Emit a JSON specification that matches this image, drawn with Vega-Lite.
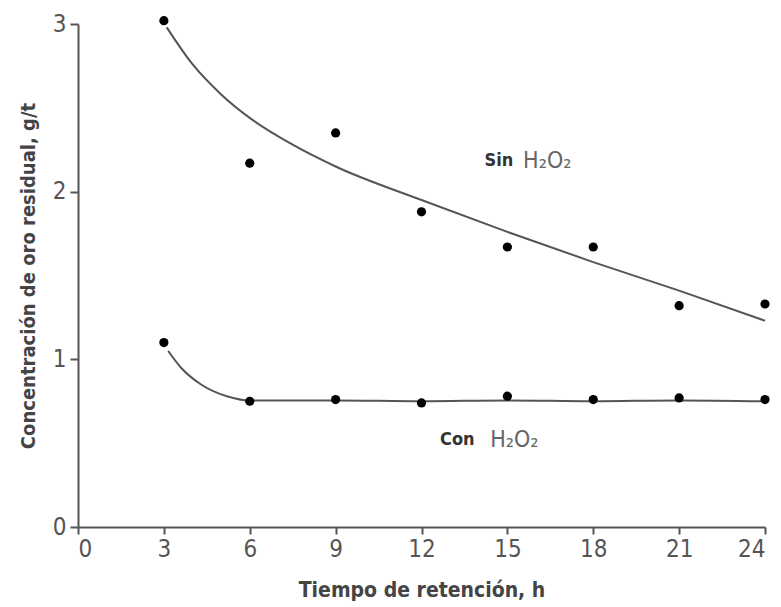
{
  "$schema": "https://vega.github.io/schema/vega-lite/v6.json",
  "width": 687,
  "height": 503,
  "autosize": "none",
  "padding": {"left": 78, "top": 24, "right": 16, "bottom": 80},
  "background": "white",
  "config": {"view": {"stroke": null}},
  "datasets": {
    "points": [
      {"t": 3, "c": 3.02, "serie": "Sin"},
      {"t": 6, "c": 2.17, "serie": "Sin"},
      {"t": 9, "c": 2.35, "serie": "Sin"},
      {"t": 12, "c": 1.88, "serie": "Sin"},
      {"t": 15, "c": 1.67, "serie": "Sin"},
      {"t": 18, "c": 1.67, "serie": "Sin"},
      {"t": 21, "c": 1.32, "serie": "Sin"},
      {"t": 24, "c": 1.33, "serie": "Sin"},
      {"t": 3, "c": 1.1, "serie": "Con"},
      {"t": 6, "c": 0.75, "serie": "Con"},
      {"t": 9, "c": 0.76, "serie": "Con"},
      {"t": 12, "c": 0.74, "serie": "Con"},
      {"t": 15, "c": 0.78, "serie": "Con"},
      {"t": 18, "c": 0.76, "serie": "Con"},
      {"t": 21, "c": 0.77, "serie": "Con"},
      {"t": 24, "c": 0.76, "serie": "Con"}
    ],
    "curves": [
      {"t": 3.1, "c": 2.98, "serie": "Sin"},
      {"t": 4, "c": 2.76, "serie": "Sin"},
      {"t": 5, "c": 2.58, "serie": "Sin"},
      {"t": 6, "c": 2.44, "serie": "Sin"},
      {"t": 7.5, "c": 2.28, "serie": "Sin"},
      {"t": 9, "c": 2.15, "serie": "Sin"},
      {"t": 12, "c": 1.95, "serie": "Sin"},
      {"t": 15, "c": 1.76, "serie": "Sin"},
      {"t": 18, "c": 1.58, "serie": "Sin"},
      {"t": 21, "c": 1.41, "serie": "Sin"},
      {"t": 24, "c": 1.23, "serie": "Sin"},
      {"t": 3.15, "c": 1.05, "serie": "Con"},
      {"t": 3.6, "c": 0.95, "serie": "Con"},
      {"t": 4.3, "c": 0.85, "serie": "Con"},
      {"t": 5.2, "c": 0.78, "serie": "Con"},
      {"t": 6, "c": 0.755, "serie": "Con"},
      {"t": 9, "c": 0.755, "serie": "Con"},
      {"t": 12, "c": 0.75, "serie": "Con"},
      {"t": 15, "c": 0.755, "serie": "Con"},
      {"t": 18, "c": 0.75, "serie": "Con"},
      {"t": 21, "c": 0.755, "serie": "Con"},
      {"t": 24, "c": 0.75, "serie": "Con"}
    ],
    "labels": [
      {"t": 14.2, "c": 2.18, "bold": "Sin", "formula": "H₂O₂", "t2": 15.55},
      {"t": 12.65, "c": 0.52, "bold": "Con", "formula": "H₂O₂", "t2": 14.4}
    ]
  },
  "layer": [
    {
      "data": {"name": "curves"},
      "mark": {"type": "line", "interpolate": "monotone", "color": "#555555", "strokeWidth": 2, "clip": false},
      "encoding": {
        "x": {
          "field": "t", "type": "quantitative",
          "scale": {"domain": [0, 24], "nice": false},
          "axis": {
            "title": "Tiempo de retención, h",
            "values": [0, 3, 6, 9, 12, 15, 18, 21, 24],
            "format": "d",
            "grid": false,
            "domainColor": "#555555", "domainWidth": 2,
            "tickColor": "#555555", "tickWidth": 2, "tickSize": 7,
            "labelFont": "DejaVu Sans Condensed", "labelFontSize": 24, "labelFontWeight": "normal", "labelColor": "#555555", "labelPadding": 3,
            "titleFont": "DejaVu Sans Condensed", "titleFontSize": 21, "titleFontWeight": "bold", "titleColor": "#444444", "titlePadding": 18
          }
        },
        "y": {
          "field": "c", "type": "quantitative",
          "scale": {"domain": [0, 3], "nice": false},
          "axis": {
            "title": "Concentración de oro residual, g/t",
            "values": [0, 1, 2, 3],
            "format": "d",
            "grid": false,
            "domainColor": "#555555", "domainWidth": 2,
            "tickColor": "#555555", "tickWidth": 2, "tickSize": 8,
            "labelFont": "DejaVu Sans Condensed", "labelFontSize": 24, "labelColor": "#555555", "labelPadding": 4,
            "titleFont": "DejaVu Sans Condensed", "titleFontSize": 20, "titleFontWeight": "bold", "titleColor": "#444444", "titlePadding": 14
          }
        },
        "detail": {"field": "serie"}
      }
    },
    {
      "data": {"name": "points"},
      "mark": {"type": "point", "filled": true, "color": "black", "size": 85, "opacity": 1, "clip": false},
      "encoding": {
        "x": {"field": "t", "type": "quantitative"},
        "y": {"field": "c", "type": "quantitative"}
      }
    },
    {
      "data": {"name": "labels"},
      "mark": {"type": "text", "align": "left", "baseline": "middle", "font": "DejaVu Sans Condensed", "fontWeight": "bold", "fontSize": 18, "color": "#333333"},
      "encoding": {
        "x": {"field": "t", "type": "quantitative"},
        "y": {"field": "c", "type": "quantitative"},
        "text": {"field": "bold"}
      }
    },
    {
      "data": {"name": "labels"},
      "mark": {"type": "text", "align": "left", "baseline": "middle", "font": "DejaVu Sans Condensed", "fontSize": 23, "color": "#666666"},
      "encoding": {
        "x": {"field": "t2", "type": "quantitative"},
        "y": {"field": "c", "type": "quantitative"},
        "text": {"field": "formula"}
      }
    }
  ]
}
